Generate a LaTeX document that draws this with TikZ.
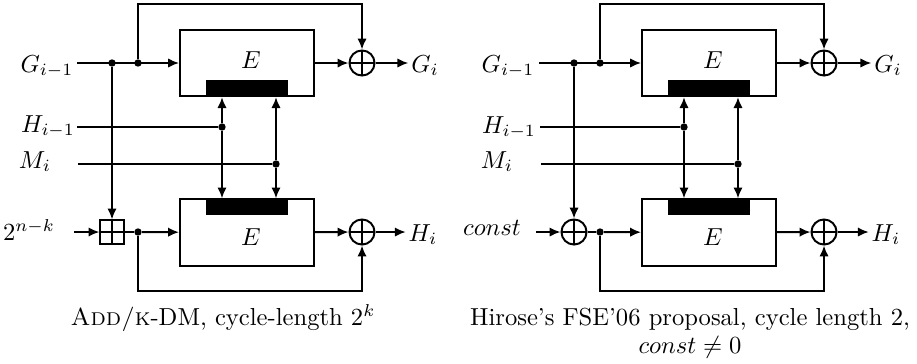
\documentclass[tikz,border=0pt]{standalone}
\usepackage{amsmath}
\usepackage{tikz}
\usetikzlibrary{positioning,arrows.meta}

\begin{document}
\begin{tikzpicture}[
  x=0.4067pt, y=-0.4067pt,
  ebox/.style={draw, thick, minimum width=54.5pt, minimum height=27pt, inner sep=0},
  keybar/.style={draw, fill=black, minimum width=32.9pt, minimum height=6.5pt, inner sep=0},
  cross/.style={path picture={\draw[thick] (path picture bounding box.north) -- (path picture bounding box.south)
      (path picture bounding box.west) -- (path picture bounding box.east);}},
  xorop/.style={draw, thick, circle, minimum size=10.2pt, inner sep=0, cross},
  addop/.style={draw, thick, minimum size=9.4pt, inner sep=0, cross},
  dot/.style={circle, fill, inner sep=0, minimum size=3pt},
  lab/.style={anchor=base},
  outlab/.style={anchor=base, inner sep=1pt},
  arrow/.style={-{Latex[length=4.4pt,width=3.8pt]}, thick},
  line/.style={thick}
]
\useasboundingbox (0,0) rectangle (917,363);

% ADD/k-DM
\node[ebox] (Ltop) at (247,63) {};
\node[keybar, anchor=south] (Lktop) at (Ltop.south) {};
\node[lab] (Letop) at (251,68) {$E$};
\node[ebox] (Lbot) at (247,232.5) {};
\node[keybar, anchor=north] (Lkbot) at (Lbot.north) {};
\node[lab] (Lebot) at (251,245) {$E$};
\node[xorop] (Lxg) at (362,63) {};
\node[xorop] (Lxh) at (362,232) {};
\node[addop] (Ladd) at (112,232) {};
\node[dot] (Ld1) at (112,63) {};
\node[dot] (Ld2) at (138,63) {};
\node[dot] (Ld3) at (222,127) {};
\node[dot] (Ld4) at (276,164) {};
\node[dot] (Ld5) at (138,232) {};
\coordinate (Lsg) at (77,63);
\coordinate (Lsh) at (77,127);
\coordinate (Lsm) at (78,164);
\coordinate (Lsn) at (74,232);
\node[lab] (Lgin) at (47,72) {$G_{i-1}$};
\node[lab] (Lhin) at (48,132) {$H_{i-1}$};
\node[lab] (Lmin) at (35,168) {$M_i$};
\node[lab] (Lnk) at (29,240) {$2^{n-k}$};
\node[outlab] (Lgout) at (425,72) {$G_i$};
\node[outlab] (Lhout) at (423,241) {$H_i$};
\node[lab] (Lcap) at (223,325) {\textsc{Add/k}-DM, cycle-length $2^k$};
\draw[arrow] (Lsg) -- (Ltop);
\draw[arrow] (Ld2) -- (Ld2 |- 0,4) -| (Lxg);
\draw[arrow] (Ltop) -- (Lxg);
\draw[arrow] (Lxg) -- (Lxg -| Lgout.west);
\draw[arrow] (Ld1) -- (Ladd);
\draw[arrow] (Lsn) -- (Ladd);
\draw[line] (Ladd) -- (Ld5);
\draw[arrow] (Ld5) -- (Lbot);
\draw[arrow] (Ld5) -- (Ld5 |- 0,291) -| (Lxh);
\draw[arrow] (Lbot) -- (Lxh);
\draw[arrow] (Lxh) -- (Lxh -| Lhout.west);
\draw[line] (Lsh) -- (Ld3);
\draw[line] (Lsm) -- (Ld4);
\draw[arrow] (Ld3) -- (Ld3 |- Lktop.south);
\draw[arrow] (Ld3) -- (Ld3 |- Lkbot.north);
\draw[arrow] (Ld4) -- (Ld4 |- Lktop.south);
\draw[arrow] (Ld4) -- (Ld4 |- Lkbot.north);

% Hirose
\begin{scope}[shift={(462,0)}]
\node[ebox] (Rtop) at (247,63) {};
\node[keybar, anchor=south] (Rktop) at (Rtop.south) {};
\node[lab] (Retop) at (251,68) {$E$};
\node[ebox] (Rbot) at (247,232.5) {};
\node[keybar, anchor=north] (Rkbot) at (Rbot.north) {};
\node[lab] (Rebot) at (251,245) {$E$};
\node[xorop] (Rxg) at (362,63) {};
\node[xorop] (Rxh) at (362,232) {};
\node[xorop] (Radd) at (112,232) {};
\node[dot] (Rd1) at (112,63) {};
\node[dot] (Rd2) at (138,63) {};
\node[dot] (Rd3) at (222,127) {};
\node[dot] (Rd4) at (276,164) {};
\node[dot] (Rd5) at (138,232) {};
\coordinate (Rsg) at (77,63);
\coordinate (Rsh) at (78,127);
\coordinate (Rsm) at (79,164);
\coordinate (Rsn) at (74,232);
\node[lab] (Rgin) at (46,72) {$G_{i-1}$};
\node[lab] (Rhin) at (47,133) {$H_{i-1}$};
\node[lab] (Rmin) at (35,168) {$M_i$};
\node[lab] (Rconst) at (30,235) {$const$};
\node[outlab] (Rgout) at (426,72) {$G_i$};
\node[outlab] (Rhout) at (424,241) {$H_i$};
\node[lab] (Rcap) at (228,325) {Hirose's FSE'06 proposal, cycle length 2,};
\node[lab] (Rcap2) at (228,353) {$const\neq 0$};
\draw[arrow] (Rsg) -- (Rtop);
\draw[arrow] (Rd2) -- (Rd2 |- 0,4) -| (Rxg);
\draw[arrow] (Rtop) -- (Rxg);
\draw[arrow] (Rxg) -- (Rxg -| Rgout.west);
\draw[arrow] (Rd1) -- (Radd);
\draw[arrow] (Rsn) -- (Radd);
\draw[line] (Radd) -- (Rd5);
\draw[arrow] (Rd5) -- (Rbot);
\draw[arrow] (Rd5) -- (Rd5 |- 0,291) -| (Rxh);
\draw[arrow] (Rbot) -- (Rxh);
\draw[arrow] (Rxh) -- (Rxh -| Rhout.west);
\draw[line] (Rsh) -- (Rd3);
\draw[line] (Rsm) -- (Rd4);
\draw[arrow] (Rd3) -- (Rd3 |- Rktop.south);
\draw[arrow] (Rd3) -- (Rd3 |- Rkbot.north);
\draw[arrow] (Rd4) -- (Rd4 |- Rktop.south);
\draw[arrow] (Rd4) -- (Rd4 |- Rkbot.north);
\end{scope}
\end{tikzpicture}
\end{document}
